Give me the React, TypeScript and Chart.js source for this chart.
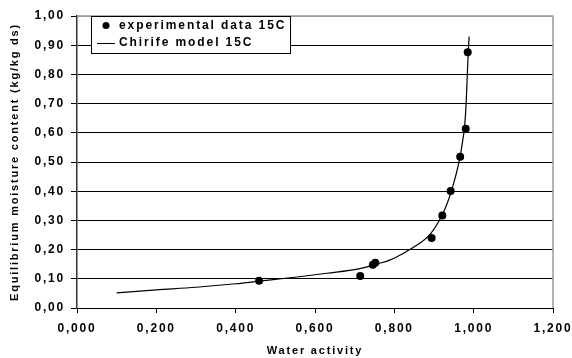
import React, { useEffect, useRef } from "react";
import { Chart, registerables } from "chart.js";

Chart.register(...registerables);

// ---- data ----
const expAw = [0.459, 0.714, 0.746, 0.752, 0.894, 0.921, 0.942, 0.966, 0.98, 0.985];
const expM = [0.093, 0.11, 0.148, 0.155, 0.24, 0.317, 0.401, 0.518, 0.614, 0.876];

const modelAw = [0.1, 0.2, 0.3, 0.4, 0.46, 0.5, 0.56, 0.63, 0.71, 0.76, 0.79, 0.82, 0.836, 0.87, 0.89, 0.92, 0.935, 0.948, 0.958, 0.966, 0.972, 0.977, 0.981, 0.984, 0.9865, 0.9885];
const modelM = [0.052, 0.062, 0.071, 0.083, 0.092, 0.098, 0.107, 0.119, 0.134, 0.152, 0.165, 0.185, 0.198, 0.228, 0.252, 0.317, 0.365, 0.42, 0.47, 0.52, 0.57, 0.62, 0.7, 0.8, 0.88, 0.93];

const seriesLabels = ["experimental data 15C", "Chirife model 15C"];
const xTitle = "Water activity";
const yTitle = "Equilibrium moisture content (kg/kg ds)";
const xMin = 0, xMax = 1.2, xStep = 0.2;
const yMin = 0, yMax = 1.0, yStep = 0.1;

const FONT = "'Liberation Sans', Arial, Helvetica, sans-serif";
const SPACING = "1.8px";

const spacingPlugin = {
  id: "letterSpacing",
  beforeUpdate(chart: any) { (chart.ctx as any).letterSpacing = SPACING; },
  beforeLayout(chart: any) { (chart.ctx as any).letterSpacing = SPACING; },
  beforeDraw(chart: any) { (chart.ctx as any).letterSpacing = SPACING; },
};

const framePlugin = {
  id: "frame",
  beforeDatasetsDraw(chart: any) {
    const { ctx, chartArea: a } = chart;
    ctx.save();
    ctx.strokeStyle = "#9a9a9a";
    ctx.lineWidth = 1.5;
    ctx.beginPath();
    ctx.moveTo(a.left, a.top);
    ctx.lineTo(a.right, a.top);
    ctx.lineTo(a.right, a.bottom);
    ctx.stroke();
    ctx.restore();
  },
};

const legendPlugin = {
  id: "boxLegend",
  afterDraw(chart: any) {
    const ctx = chart.ctx;
    const x0 = 91.5, y0 = 16.5, w = 199, h = 37;
    ctx.save();
    ctx.fillStyle = "#ffffff";
    ctx.fillRect(x0, y0, w, h);
    ctx.strokeStyle = "#000";
    ctx.lineWidth = 1;
    ctx.strokeRect(x0, y0, w, h);
    (ctx as any).letterSpacing = "1.9px";
    ctx.font = "bold 12px " + FONT;
    ctx.fillStyle = "#000";
    ctx.textBaseline = "middle";
    ctx.textAlign = "left";
    // row 1: marker
    ctx.beginPath();
    ctx.arc(106, 25.5, 3.5, 0, Math.PI * 2);
    ctx.fill();
    ctx.fillText(chart.data.datasets[0].label, 119, 25.5);
    // row 2: line
    ctx.beginPath();
    ctx.moveTo(97, 43.5);
    ctx.lineTo(115, 43.5);
    ctx.lineWidth = 1;
    ctx.stroke();
    ctx.fillText(chart.data.datasets[1].label, 119, 43);
    ctx.restore();
  },
};

export default function App() {
  const ref = useRef<HTMLCanvasElement | null>(null);

  useEffect(() => {
    if (!ref.current) return;
    const expData = expAw.map((x, i) => ({ x, y: expM[i] }));
    const modelData = modelAw.map((x, i) => ({ x, y: modelM[i] }));

    const chart = new Chart(ref.current, {
      type: "scatter",
      data: {
        datasets: [
          {
            label: seriesLabels[0],
            data: expData,
            showLine: false,
            pointRadius: 4,
            pointHoverRadius: 4,
            pointBackgroundColor: "#000",
            pointBorderColor: "#000",
            pointBorderWidth: 0,
            order: 2,
          },
          {
            label: seriesLabels[1],
            data: modelData,
            showLine: true,
            borderColor: "#000",
            borderWidth: 1.2,
            pointRadius: 0,
            cubicInterpolationMode: "monotone",
            fill: false,
            order: 1,
          },
        ],
      },
      options: {
        responsive: false,
        animation: false,
        devicePixelRatio: 1,
        layout: { padding: { left: 0, top: 16, right: 19, bottom: 0 } },
        plugins: {
          legend: { display: false },
          tooltip: { enabled: false },
        },
        scales: {
          x: {
            type: "linear",
            min: xMin,
            max: xMax,
            ticks: {
              stepSize: xStep,
              color: "#000",
              padding: 8,
              maxRotation: 0,
              font: { family: FONT, size: 12, weight: "bold" },
              callback: (v: any) => Number(v).toFixed(3).replace(".", ","),
            },
            grid: {
              drawOnChartArea: false,
              drawTicks: true,
              tickLength: 5,
              color: "#000",
              tickColor: "#000",
            },
            border: { display: true, color: "#000", width: 1 },
            title: {
              display: true,
              text: xTitle,
              color: "#000",
              padding: { top: 4, bottom: 0 },
              font: { family: FONT, size: 11, weight: "bold", lineHeight: 1.2 },
            },
            afterFit: (s: any) => {
              s.height = 50;
              s.paddingLeft = 0;
              s.paddingRight = 0;
            },
          },
          y: {
            type: "linear",
            min: yMin,
            max: yMax,
            ticks: {
              stepSize: yStep,
              color: "#000",
              padding: 6,
              font: { family: FONT, size: 12, weight: "bold" },
              callback: (v: any) => Number(v).toFixed(2).replace(".", ","),
            },
            grid: {
              drawOnChartArea: true,
              drawTicks: true,
              tickLength: 6,
              lineWidth: 1,
              color: (c: any) => (c.tick && Math.abs(c.tick.value - yMax) < 1e-9 ? "#9a9a9a" : "#000"),
              tickColor: "#000",
            },
            border: { display: true, color: "#333", width: 1.5 },
            title: {
              display: true,
              text: yTitle,
              color: "#000",
              padding: { top: 8, bottom: 0 },
              font: { family: FONT, size: 11, weight: "bold", lineHeight: 1.2 },
            },
            afterFit: (s: any) => {
              s.width = 77;
              s.paddingTop = 0;
              s.paddingBottom = 0;
            },
          },
        },
      } as any,
      plugins: [spacingPlugin, framePlugin, legendPlugin],
    });

    return () => chart.destroy();
  }, []);

  return (
    <div style={{ position: "fixed", left: 0, top: 0, width: 572, height: 358, background: "#fff" }}>
      <canvas ref={ref} width={572} height={358} style={{ display: "block", width: 572, height: 358 }} />
    </div>
  );
}
